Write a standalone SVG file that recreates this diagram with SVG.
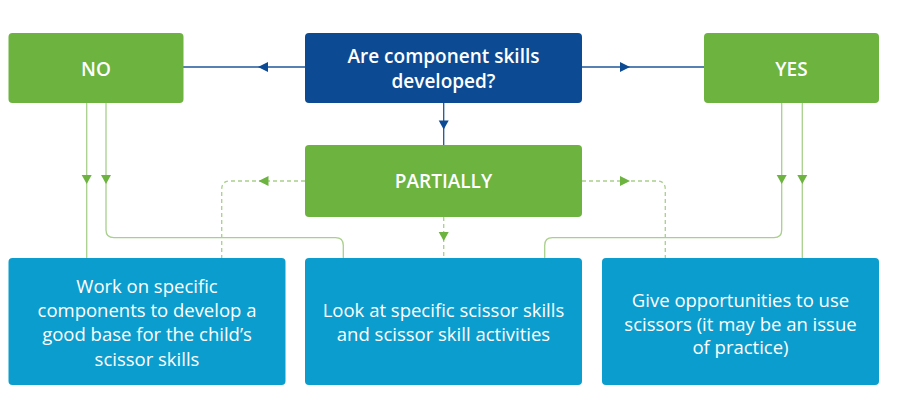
<svg xmlns="http://www.w3.org/2000/svg" width="900" height="402" viewBox="0 0 900 402">
<style>
.g{fill:#6cb33f}
.q{fill:#0c4b93}
.b{fill:#0a9dcd}
.t{font-family:"Open Sans","Noto Sans",sans-serif;fill:#fff;text-anchor:middle}
.bold{font-weight:600;font-size:19px}
.reg{font-size:18.5px}
.ln{fill:none;stroke:#a9cf8b;stroke-width:1.3}
.dl{fill:none;stroke:#a9cf8b;stroke-width:1.3;stroke-dasharray:4 3}
.bl{fill:none;stroke:#1f5799;stroke-width:1.3}
.ah{fill:#6cb33f}
.ahb{fill:#0c4b93}
</style>
<rect width="900" height="402" fill="#fff"/>
<g id="connectors">
<path class="bl" d="M305 67H183"/>
<path class="ahb" d="M258 67L268 62V72Z"/>
<path class="bl" d="M582 67H704"/>
<path class="ahb" d="M630 67L620 62V72Z"/>
<path class="bl" d="M443.7 103V145"/>
<path class="ahb" d="M443.7 129.5L438.7 120.5H448.7Z"/>
<path class="ln" d="M86.7 103V258"/>
<path class="ln" d="M106 103V230Q106 237.7 114 237.7H335.5Q343.3 237.7 343.3 245.5V258"/>
<path class="ah" d="M86.7 184L81.7 175H91.7Z"/>
<path class="ah" d="M106 184L101 175H111Z"/>
<path class="ln" d="M802.3 103V258"/>
<path class="ln" d="M781.7 103V230Q781.7 237.7 774 237.7H552.5Q544.7 237.7 544.7 245.5V258"/>
<path class="ah" d="M781.7 184L776.7 175H786.7Z"/>
<path class="ah" d="M802.3 184L797.3 175H807.3Z"/>
<path class="dl" d="M305 181H230Q221.7 181 221.7 189.3V258"/>
<path class="ah" d="M258.5 181L268.5 176V186Z"/>
<path class="dl" d="M582 181H657Q665.3 181 665.3 189.3V258"/>
<path class="ah" d="M630 181L620 176V186Z"/>
<path class="dl" d="M443.7 217V258"/>
<path class="ah" d="M443.7 241L438.7 232H448.7Z"/>
</g>
<g id="no">
<rect class="g" x="8.5" y="33" width="175" height="70" rx="4"/>
<text class="t bold" x="96" y="76">NO</text>
</g>
<g id="question">
<rect class="q" x="305" y="33" width="277" height="70" rx="4"/>
<text class="t bold" x="443.5" y="63.3">Are component skills</text>
<text class="t bold" x="443.5" y="88.3">developed?</text>
</g>
<g id="yes">
<rect class="g" x="704" y="33" width="175" height="70" rx="4"/>
<text class="t bold" x="791.5" y="76">YES</text>
</g>
<g id="partially">
<rect class="g" x="305" y="145" width="277" height="72" rx="4"/>
<text class="t bold" x="443.5" y="188.3">PARTIALLY</text>
</g>
<g id="work">
<rect class="b" x="8.5" y="258" width="277" height="127" rx="4"/>
<text class="t reg" x="147" y="293">Work on specific</text>
<text class="t reg" x="147" y="316.7">components to develop a</text>
<text class="t reg" x="147" y="340.7">good base for the child’s</text>
<text class="t reg" x="147" y="365.7">scissor skills</text>
</g>
<g id="look">
<rect class="b" x="305" y="258" width="277" height="127" rx="4"/>
<text class="t reg" x="443.5" y="316.7">Look at specific scissor skills</text>
<text class="t reg" x="443.5" y="340.7">and scissor skill activities</text>
</g>
<g id="give">
<rect class="b" x="602" y="258" width="277" height="127" rx="4"/>
<text class="t reg" x="740.5" y="307">Give opportunities to use</text>
<text class="t reg" x="740.5" y="330.7">scissors (it may be an issue</text>
<text class="t reg" x="740.5" y="354.4">of practice)</text>
</g>
</svg>
